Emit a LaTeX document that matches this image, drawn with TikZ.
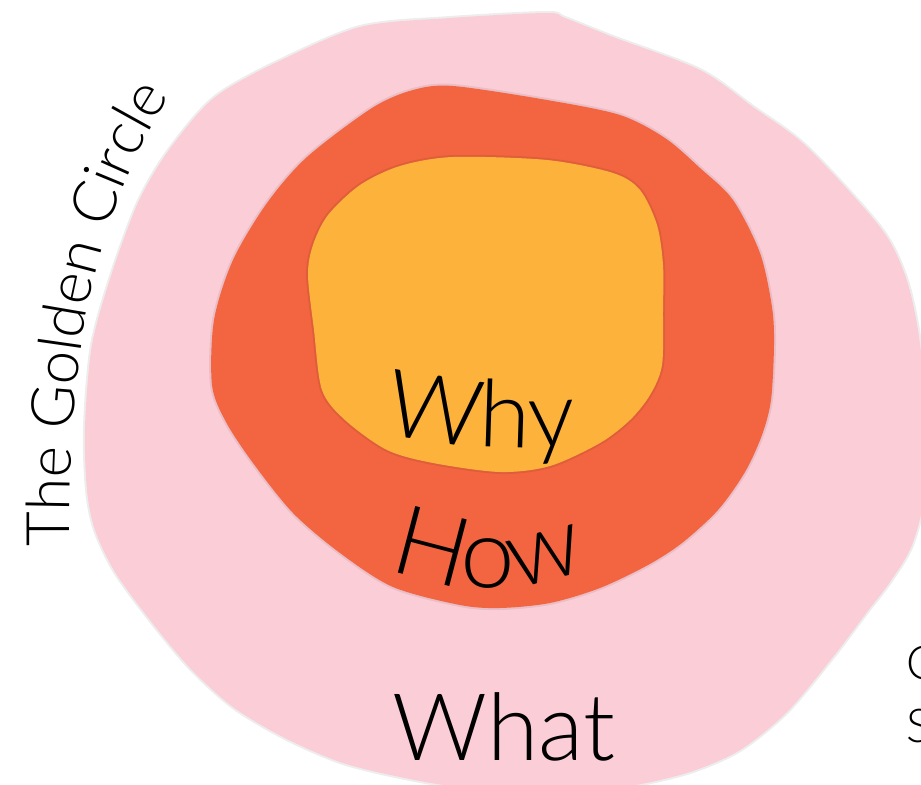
\documentclass[tikz,border=0pt]{standalone}
\usepackage{fontspec}
\usetikzlibrary{decorations.text}
\IfFontExistsTF{Lato-Light.ttf}{\newfontfamily\thinfont{Lato-Light.ttf}}{%
  \IfFontExistsTF{Fira Sans Light}{\newfontfamily\thinfont{Fira Sans Light}}{\newfontfamily\thinfont{Lato}}}
\definecolor{pinkp}{RGB}{251,205,215}
\definecolor{orangep}{RGB}{242,101,64}
\definecolor{yellowp}{RGB}{252,178,59}
\tikzset{
  blob/.style={smooth cycle, tension=0.5},
  papercut/.style={preaction={draw=black, draw opacity=0.07, line width=3pt}, fill=#1},
  bigword/.style={decorate, decoration={text along path, text align=center, text format delimiters={|}{|}}},
}
\begin{document}
\begin{tikzpicture}[x=0.75pt,y=0.75pt]
\useasboundingbox (0,0) rectangle (921,-785);
\clip (0,0) rectangle (921,-785);
% outer pink (What)
\path[papercut=pinkp] plot[blob] coordinates {
 (450,-18) (547,-13) (565,-18) (613,-37) (700,-70) (753,-107) (807,-147) (880,-227)
 (905,-275) (918,-330) (925,-400) (925,-490) (912,-545) (890,-582) (867,-612)
 (833,-657) (787,-712) (740,-750) (690,-772) (630,-786) (567,-792) (467,-788)
 (400,-777) (340,-762) (283,-737) (233,-707) (190,-668) (150,-620) (115,-572)
 (95,-530) (87,-490) (85,-427) (92,-345) (112,-273) (137,-205) (162,-160)
 (195,-117) (222,-92) (275,-63) (360,-27)};
% middle orange (How)
\path[papercut=orangep] plot[blob] coordinates {
 (413,-90) (453,-86) (547,-100) (620,-115) (665,-138) (700,-168) (733,-200)
 (760,-253) (772,-307) (774,-345) (771,-400) (762,-435) (745,-472) (718,-510)
 (682,-543) (648,-565) (600,-588) (550,-603) (500,-608) (460,-605) (393,-587)
 (340,-553) (293,-513) (253,-463) (226,-422) (212,-385) (214,-320) (233,-260)
 (267,-203) (307,-157) (372,-108)};
% inner yellow (Why)
\path[papercut=yellowp] plot[blob] coordinates {
 (453,-157) (547,-160) (613,-173) (640,-190) (657,-225) (663,-265) (663,-310)
 (662,-365) (650,-395) (630,-420) (600,-443) (550,-466) (500,-472) (433,-463)
 (387,-450) (345,-420) (322,-390) (314,-330) (308,-275) (313,-245) (328,-215)
 (360,-185) (400,-166)};
% words
\path[bigword, decoration={text={|\thinfont\fontsize{70}{80}\selectfont|Why}}]
  plot[domain=-18:10, samples=61] ({525+650*sin(\x)},{202-650*cos(\x)});
\path[bigword, decoration={text={|\thinfont\fontsize{73}{80}\selectfont|How}}]
  plot[domain=-35:35, samples=61] ({488+257*sin(\x)},{-331-257*cos(\x)});
\node[anchor=base, inner sep=0pt, font=\thinfont\fontsize{70}{80}\selectfont] (what) at (504,-760) {What};
% title along the left edge
\path[decorate, decoration={text along path, text align=left, text format delimiters={|}{|},
  text={|\thinfont\fontsize{45}{54}\selectfont|The Golden Circle}}]
  (70,-546) .. controls (68,-330) and (100,-190) .. (190,-68);
% cut-off letters at the right edge
\node[anchor=base west, inner sep=0pt, font=\thinfont\fontsize{35}{40}\selectfont] (credc) at (906,-679) {C};
\node[anchor=base west, inner sep=0pt, font=\thinfont\fontsize{35}{40}\selectfont] (creds) at (906,-742) {S};
\end{tikzpicture}
\end{document}
